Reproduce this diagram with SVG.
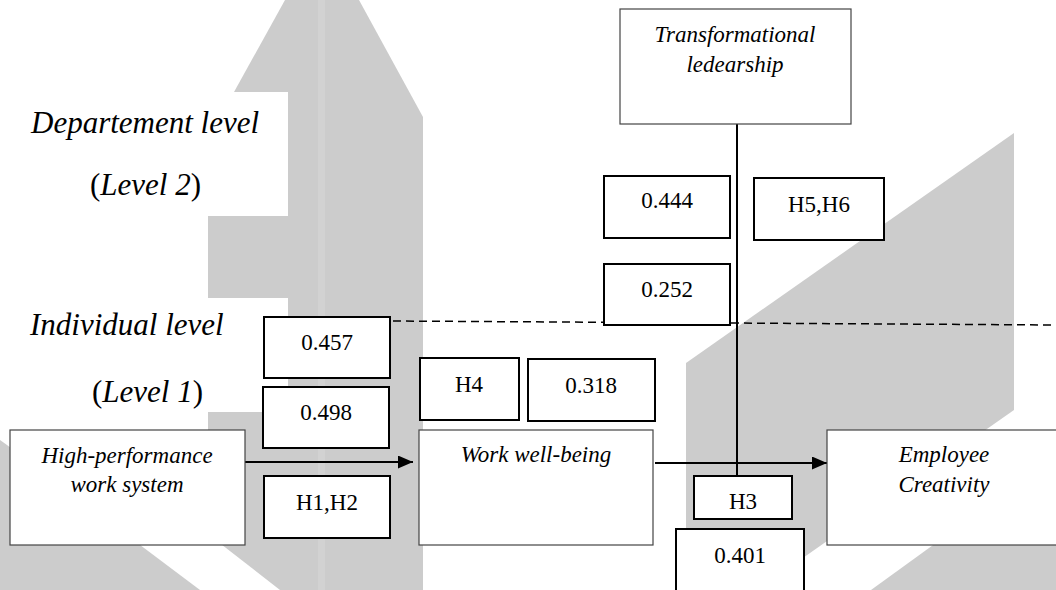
<svg xmlns="http://www.w3.org/2000/svg" width="1056" height="590" viewBox="0 0 1056 590">
<style>
.wm{fill:#cccccc}
.cover{fill:#ffffff}
.node{fill:#ffffff;stroke:#444444;stroke-width:1.2}
.lab{fill:#ffffff;stroke:#000000;stroke-width:2}
.nt{font-family:"Liberation Serif","Times New Roman",serif;font-style:italic;font-size:23px;fill:#000;text-anchor:middle}
.lt{font-family:"Liberation Serif","Times New Roman",serif;font-size:23px;fill:#000;text-anchor:middle}
.lvl{font-family:"Liberation Serif","Times New Roman",serif;font-size:31px;fill:#000}
.it{font-style:italic}
.con{stroke:#000;stroke-width:2;fill:none}
.dash{stroke:#000;stroke-width:1.5;fill:none;stroke-dasharray:8 5}
</style>
<defs>
<marker id="ah" markerWidth="15" markerHeight="13" refX="15" refY="6.5" orient="auto" markerUnits="userSpaceOnUse">
<path d="M0,0 L15,6.5 L0,13 Z" fill="#000"/>
</marker>
</defs>
<g id="watermark">
<polygon class="wm" points="285,0 359,0 423,117 423,590 280,590 208,534 208,139"/>
<rect x="318" y="0" width="7" height="590" fill="#d2d2d2"/>
<polygon class="wm" points="0,440 7,445 200,590 0,590"/>
<polygon class="wm" points="686,363 1014,133 1014,410 800,560 686,560"/>
<polygon class="wm" points="871,590 1056,590 1056,456"/>
</g>
<g id="level-labels">
<rect class="cover" x="0" y="92" width="288" height="124"/>
<rect class="cover" x="0" y="298" width="288" height="114"/>
<text class="lvl it" x="31" y="133">Departement level</text>
<text class="lvl" x="90" y="195">(<tspan class="it">Level 2</tspan>)</text>
<text class="lvl it" x="30" y="335">Individual level</text>
<text class="lvl" x="92" y="402">(<tspan class="it">Level 1</tspan>)</text>
</g>
<g id="connectors">
<line class="dash" x1="393" y1="321" x2="1056" y2="325"/>
<line class="con" x1="245" y1="462" x2="413" y2="462" marker-end="url(#ah)"/>
<line class="con" x1="655" y1="463" x2="827" y2="463" marker-end="url(#ah)"/>
<line class="con" x1="737" y1="124" x2="737" y2="476"/>
</g>
<g id="transformational-leadership">
<rect class="node" x="620" y="9" width="231" height="115"/>
<text class="nt" x="735" y="42">Transformational</text>
<text class="nt" x="735" y="72">ledearship</text>
</g>
<g id="hpws">
<rect class="node" x="10" y="430" width="235" height="115"/>
<text class="nt" x="127" y="463">High-performance</text>
<text class="nt" x="127" y="492">work system</text>
</g>
<g id="work-well-being">
<rect class="node" x="419" y="430" width="234" height="115"/>
<text class="nt" x="536" y="462">Work well-being</text>
</g>
<g id="employee-creativity">
<rect class="node" x="827" y="430" width="236" height="115"/>
<text class="nt" x="944" y="462">Employee</text>
<text class="nt" x="944" y="492">Creativity</text>
</g>
<g id="lbl-0444"><rect class="lab" x="604" y="176" width="126" height="62"/><text class="lt" x="667" y="208">0.444</text></g>
<g id="lbl-h5h6"><rect class="lab" x="754" y="178" width="130" height="62"/><text class="lt" x="819" y="212">H5,H6</text></g>
<g id="lbl-0252"><rect class="lab" x="604" y="264" width="126" height="61"/><text class="lt" x="667" y="297">0.252</text></g>
<g id="lbl-0457"><rect class="lab" x="264" y="317" width="126" height="61"/><text class="lt" x="327" y="350">0.457</text></g>
<g id="lbl-0498"><rect class="lab" x="263" y="387" width="126" height="61"/><text class="lt" x="326" y="420">0.498</text></g>
<g id="lbl-h1h2"><rect class="lab" x="264" y="476" width="126" height="62"/><text class="lt" x="327" y="510">H1,H2</text></g>
<g id="lbl-h4"><rect class="lab" x="420" y="358" width="99" height="62"/><text class="lt" x="469" y="392">H4</text></g>
<g id="lbl-0318"><rect class="lab" x="528" y="359" width="127" height="62"/><text class="lt" x="591" y="393">0.318</text></g>
<g id="lbl-h3"><rect class="lab" x="694" y="476" width="98" height="43"/><text class="lt" x="743" y="509">H3</text></g>
<g id="lbl-0401"><rect class="lab" x="676" y="529" width="128" height="70"/><text class="lt" x="740" y="563">0.401</text></g>
</svg>
